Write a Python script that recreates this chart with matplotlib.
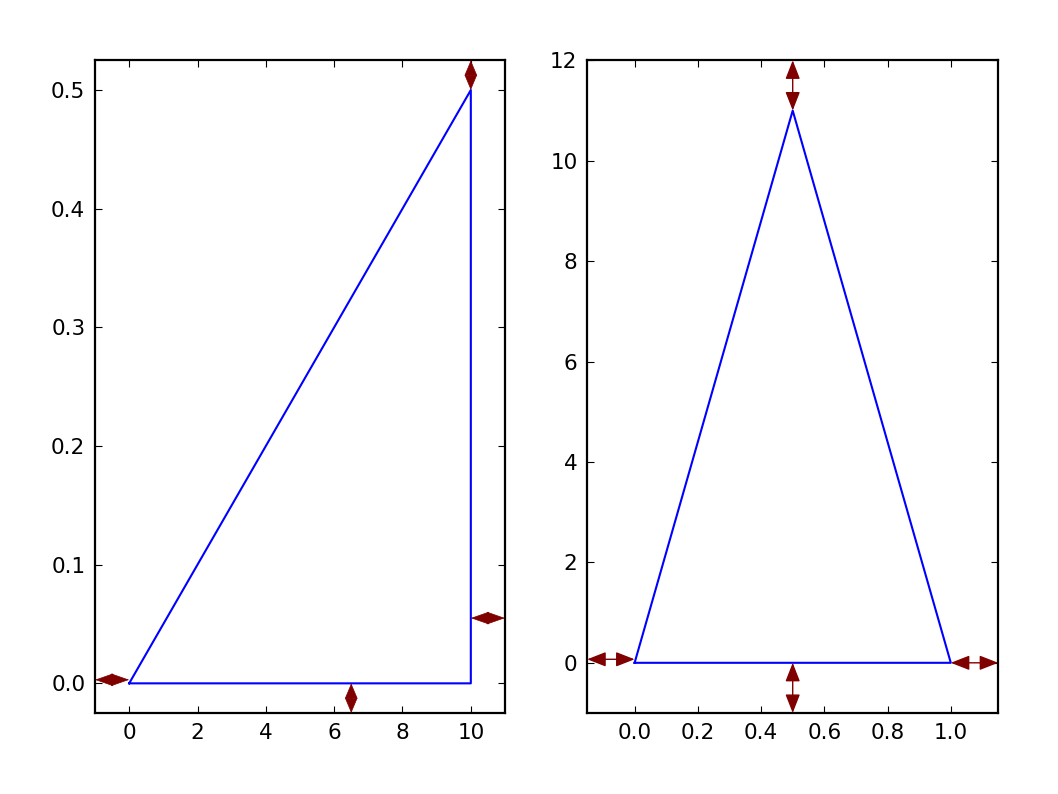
import matplotlib
matplotlib.use("Agg")
import matplotlib.pyplot as plt

# Data
left_x = [0, 10, 10, 0]
left_y = [0, 0.5, 0, 0]
right_x = [0, 0.5, 1, 0]
right_y = [0, 11, 0, 0]

left_xlim = (-1, 11)
left_ylim = (-0.025, 0.525)
right_xlim = (-0.15, 1.15)
right_ylim = (-1, 12)

# arrows: (start, end) in data coordinates
left_arrows = [((-1, 0.003), (0, 0.003)),
               ((6.5, -0.025), (6.5, 0)),
               ((10, 0.5), (10, 0.525)),
               ((10, 0.055), (11, 0.055))]
right_arrows = [((-0.15, 0.07), (0, 0.07)),
                ((1, 0), (1.15, 0)),
                ((0.5, -1), (0.5, 0)),
                ((0.5, 11), (0.5, 12))]

plt.rcParams['font.family'] = ['DejaVu Sans']
fig = plt.figure(figsize=(10.58, 7.94), dpi=100)
ax1 = fig.add_axes([0.0898, 0.102, 0.3875, 0.822])
ax2 = fig.add_axes([0.555, 0.102, 0.3885, 0.822])

for ax in (ax1, ax2):
    for s in ax.spines.values():
        s.set_linewidth(1.6)
    ax.tick_params(direction='in', top=True, right=True, length=5, width=0.8,
                   labelsize=15.5, pad=7)

ax1.plot(left_x, left_y, color='#0000ff', lw=1.5)
ax1.set_xlim(*left_xlim)
ax1.set_ylim(*left_ylim)
ax1.set_xticks([0, 2, 4, 6, 8, 10])
ax1.set_yticks([0.0, 0.1, 0.2, 0.3, 0.4, 0.5])
ax1.set_yticklabels(['0.0', '0.1', '0.2', '0.3', '0.4', '0.5'])

for (a, b) in left_arrows:
    vertical = a[0] == b[0]
    hl = 1.0 if vertical else 1.2
    ax1.annotate('', xy=b, xytext=a,
                 arrowprops=dict(arrowstyle=f'<|-|>,head_length={hl},head_width=0.42',
                                 mutation_scale=10, color='#800000', lw=0.5,
                                 shrinkA=0, shrinkB=0))

ax2.plot(right_x, right_y, color='#0000ff', lw=1.5)
ax2.set_xlim(*right_xlim)
ax2.set_ylim(*right_ylim)
ax2.set_xticks([0, 0.2, 0.4, 0.6, 0.8, 1.0])
ax2.set_xticklabels(['0.0', '0.2', '0.4', '0.6', '0.8', '1.0'])
ax2.set_yticks([0, 2, 4, 6, 8, 10, 12])

for (a, b) in right_arrows:
    ax2.annotate('', xy=b, xytext=a,
                 arrowprops=dict(arrowstyle='<|-|>,head_length=1.15,head_width=0.45',
                                 mutation_scale=10, color='#800000', lw=1.0,
                                 shrinkA=0, shrinkB=0))

fig.savefig('out.png', dpi=100)
